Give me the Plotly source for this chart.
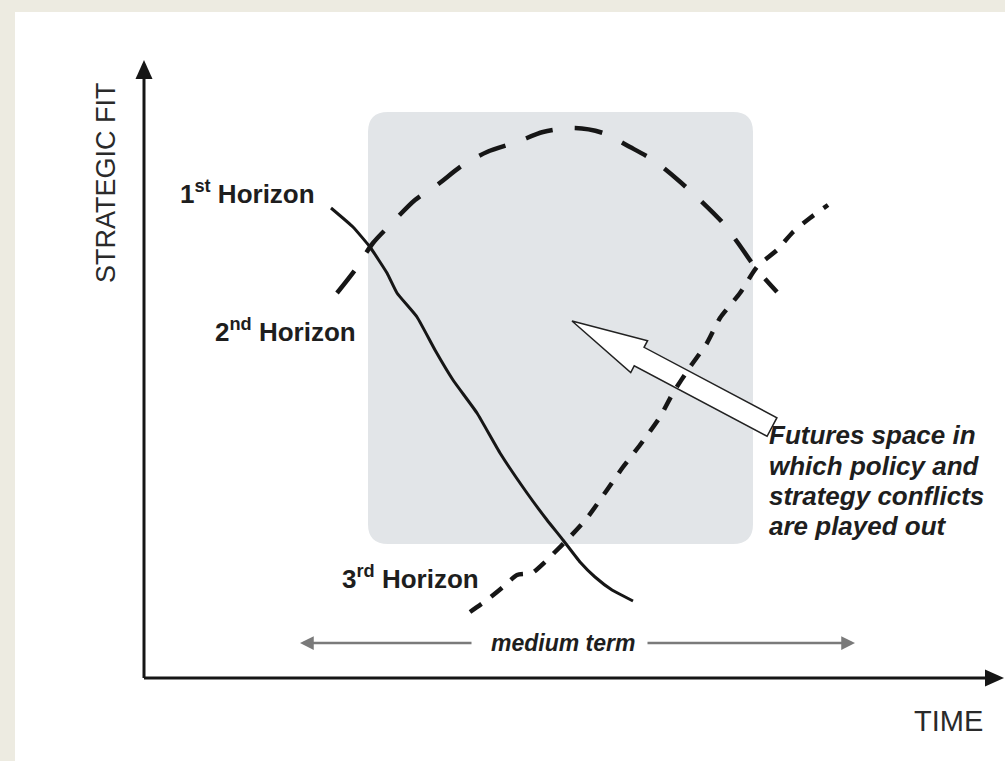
import math
import plotly.graph_objects as go

# ---------------- data (time, strategic fit) ----------------
h1_time = [1.87, 2.09, 2.26, 2.43, 2.53, 2.73, 2.91, 3.09, 3.33, 3.56, 3.83, 4.03, 4.19, 4.36, 4.51, 4.68, 4.89]
h1_fit = [4.70, 4.51, 4.31, 4.05, 3.85, 3.61, 3.28, 2.98, 2.65, 2.25, 1.85, 1.58, 1.38, 1.16, 1.01, 0.88, 0.77]

h2_time = [1.93, 2.11, 2.29, 2.48, 2.71, 2.93, 3.19, 3.43, 3.73, 3.99, 4.31, 4.59, 4.86, 5.09, 5.34, 5.56, 5.78, 5.94, 6.11, 6.33]
h2_fit = [3.85, 4.08, 4.35, 4.55, 4.78, 4.93, 5.13, 5.26, 5.36, 5.46, 5.50, 5.45, 5.31, 5.18, 4.98, 4.78, 4.56, 4.35, 4.11, 3.86]

h3_time = [3.26, 3.43, 3.59, 3.73, 3.88, 4.01, 4.11, 4.23, 4.43, 4.63, 4.79, 4.96, 5.16, 5.29, 5.46, 5.63, 5.76, 5.96, 6.13, 6.33, 6.49, 6.66, 6.84]
h3_fit = [0.66, 0.78, 0.91, 1.03, 1.05, 1.16, 1.26, 1.38, 1.60, 1.88, 2.11, 2.33, 2.61, 2.85, 3.11, 3.35, 3.60, 3.85, 4.11, 4.28, 4.46, 4.60, 4.73]

horizon_labels = ["1<sup>st</sup> Horizon", "2<sup>nd</sup> Horizon", "3<sup>rd</sup> Horizon"]
futures_lines = ["Futures space in", "which policy and", "strategy conflicts", "are played out"]
x_title = "TIME"
y_title = "STRATEGIC FIT"
span_label = "medium term"

# ---------------- layout geometry ----------------
X_RANGE = [-1.44, 8.61]
Y_RANGE = [-0.83, 6.78]
INK = "#161616"
FONT = "Liberation Sans, Arial, sans-serif"

fig = go.Figure()

fig.add_trace(go.Scatter(x=h1_time, y=h1_fit, mode="lines",
                         line=dict(color=INK, width=3, shape="spline", smoothing=0.4),
                         hoverinfo="skip", showlegend=False))
fig.add_trace(go.Scatter(x=h2_time, y=h2_fit, mode="lines",
                         line=dict(color=INK, width=4.5, dash="28px,22px", shape="spline", smoothing=0.8),
                         hoverinfo="skip", showlegend=False))
fig.add_trace(go.Scatter(x=h3_time, y=h3_fit, mode="lines",
                         line=dict(color=INK, width=4.5, dash="14px,12px", shape="spline", smoothing=0.6),
                         hoverinfo="skip", showlegend=False))

shapes = []
# beige frame (left and top)
BEIGE = "#EDEBE1"
shapes.append(dict(type="rect", xref="paper", yref="paper", x0=0, x1=15 / 1005, y0=0, y1=1,
                   fillcolor=BEIGE, line=dict(width=0), layer="below"))
shapes.append(dict(type="rect", xref="paper", yref="paper", x0=0, x1=1, y0=1 - 12 / 761, y1=1,
                   fillcolor=BEIGE, line=dict(width=0), layer="below"))

# rounded grey box
bx0, bx1, by0, by1, r = 2.24, 6.09, 1.34, 5.66, 0.2
box_path = (f"M {bx0 + r},{by0} L {bx1 - r},{by0} Q {bx1},{by0} {bx1},{by0 + r} "
            f"L {bx1},{by1 - r} Q {bx1},{by1} {bx1 - r},{by1} "
            f"L {bx0 + r},{by1} Q {bx0},{by1} {bx0},{by1 - r} "
            f"L {bx0},{by0 + r} Q {bx0},{by0} {bx0 + r},{by0} Z")
shapes.append(dict(type="path", path=box_path, fillcolor="#E2E5E8", line=dict(width=0), layer="below"))

# big white block arrow
tip = (4.28, 3.57)
tail = (6.28, 2.51)
dx, dy = tail[0] - tip[0], tail[1] - tip[1]
L = math.hypot(dx, dy)
ux, uy = dx / L, dy / L
nx, ny = -uy, ux
head_len, head_w, shaft_w = 0.76, 0.18, 0.105


def pt(a, p):
    return (tip[0] + ux * a + nx * p, tip[1] + uy * a + ny * p)


poly = [tip, pt(head_len, head_w), pt(head_len, shaft_w), pt(L, shaft_w),
        pt(L, -shaft_w), pt(head_len, -shaft_w), pt(head_len, -head_w)]
arrow_path = "M " + " L ".join(f"{x:.4f},{y:.4f}" for x, y in poly) + " Z"
shapes.append(dict(type="path", path=arrow_path, fillcolor="white",
                   line=dict(color="#222222", width=1.5), layer="below"))

# axes
x_end, y_end = 8.60, 6.18
ah_len, ah_w = 0.19, 0.085
shapes.append(dict(type="line", x0=0, y0=0, x1=x_end - ah_len * 0.5, y1=0, line=dict(color=INK, width=3)))
shapes.append(dict(type="line", x0=0, y0=0, x1=0, y1=y_end - ah_len * 0.5, line=dict(color=INK, width=3)))
shapes.append(dict(type="path",
                   path=f"M {x_end},0 L {x_end - ah_len},{ah_w} L {x_end - ah_len},{-ah_w} Z",
                   fillcolor=INK, line=dict(width=0)))
shapes.append(dict(type="path",
                   path=f"M 0,{y_end} L {ah_w},{y_end - ah_len} L {-ah_w},{y_end - ah_len} Z",
                   fillcolor=INK, line=dict(width=0)))

annotations = []
# medium term span arrows
span_y = 0.35
GREY = "#7a7a7a"
annotations.append(dict(x=1.56, y=span_y, ax=3.29, ay=span_y, xref="x", yref="y", axref="x", ayref="y",
                        text="", showarrow=True, arrowhead=2, arrowsize=1.1, arrowwidth=2.5, arrowcolor=GREY))
annotations.append(dict(x=7.11, y=span_y, ax=5.02, ay=span_y, xref="x", yref="y", axref="x", ayref="y",
                        text="", showarrow=True, arrowhead=2, arrowsize=1.1, arrowwidth=2.5, arrowcolor=GREY))
annotations.append(dict(x=4.19, y=span_y, text=f"<b><i>{span_label}</i></b>", showarrow=False,
                        xanchor="center", yanchor="middle", font=dict(family=FONT, size=23, color="#1e1e1e")))

# horizon labels
for (lx, ly), txt in zip([(0.34, 4.86), (0.69, 3.48), (1.96, 1.01)], horizon_labels):
    annotations.append(dict(x=lx, y=ly, text=f"<b>{txt}</b>", showarrow=False,
                            xanchor="left", yanchor="middle",
                            font=dict(family=FONT, size=26, color="#1e1e1e")))

# futures text
for ly, txt in zip([2.43, 2.12, 1.82, 1.52], futures_lines):
    annotations.append(dict(x=6.23, y=ly, text=f"<b><i>{txt}</i></b>", showarrow=False,
                            xanchor="left", yanchor="middle",
                            font=dict(family=FONT, size=26, color="#1e1e1e")))

# axis titles
annotations.append(dict(x=8.04, y=-0.43, text=x_title, showarrow=False, xanchor="center", yanchor="middle",
                        font=dict(family=FONT, size=29, color="#2a2a2a")))
annotations.append(dict(x=-0.38, y=4.95, text=y_title, showarrow=False, xanchor="center", yanchor="middle",
                        textangle=-90, font=dict(family=FONT, size=27, color="#2a2a2a")))

fig.update_layout(
    width=1005, height=761,
    margin=dict(l=0, r=0, t=0, b=0),
    paper_bgcolor="white", plot_bgcolor="white",
    xaxis=dict(range=X_RANGE, visible=False, showgrid=False, zeroline=False, fixedrange=True),
    yaxis=dict(range=Y_RANGE, visible=False, showgrid=False, zeroline=False, fixedrange=True),
    shapes=shapes, annotations=annotations, showlegend=False,
)

fig.write_html("out.html", config={"displayModeBar": False},
               post_script="document.body.style.margin='0';document.body.style.overflow='hidden';")
